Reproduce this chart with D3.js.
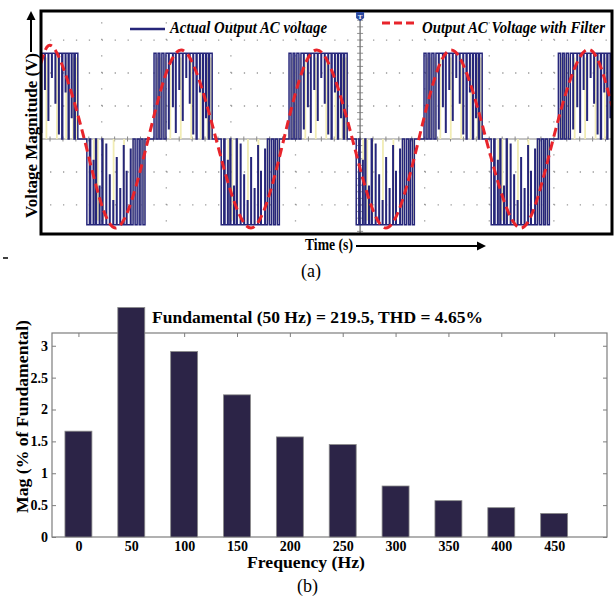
<!DOCTYPE html>
<html>
<head>
<meta charset="utf-8">
<script src="https://cdn.jsdelivr.net/npm/d3@7"></script>
<style>
  body { margin: 0; background: #fff; }
  svg { display: block; }
  text { font-family: "Liberation Serif", "Times New Roman", serif; }
</style>
</head>
<body>
<svg id="fig" width="615" height="596"></svg>
<script>
// ---- (a) oscilloscope data, time in ms, voltage in V ----
const timeGrid = [10, 20, 30, 40, 60, 70, 80];   // dotted divisions (50 = trigger axis)
const voltGrid = [-200, -100, 100, 200, 300];
const stepVoltage = 260;
const halfCycleCenters = [1.8, 12.2, 22.6, 33.0, 43.5, 53.9, 64.4, 74.8, 85.2];
const halfCycleSigns = [1, -1, 1, -1, 1, -1, 1, -1, 1];
const pulseSpan = 9.0;
// switching pattern of one half cycle (fraction of the pulse span)
const pwmOn = [[0.00, 0.035], [0.07, 0.10], [0.135, 0.17], [0.205, 0.725], [0.74, 0.835], [0.85, 0.935], [0.955, 1.00]];
const pwmNotches = [[0.25, 0.12], [0.32, 0.38], [0.37, 0.08], [0.43, 0.58], [0.49, 0.22], [0.55, 0.72], [0.61, 0.42], [0.67, 0.06], [0.785, 0.55], [0.89, 0.25]];
const ghostLines = [0.05, 0.12, 0.19, 0.28, 0.46, 0.64, 0.8, 0.92, 0.98];
const filterTimes = [0.6, 2.8, 7.3, 12.1, 17.2, 22.3, 27.7, 33.1, 38.2, 43.3, 48.8, 54.0, 59.1, 64.1, 69.5, 74.9, 79.9, 85.0, 89.0];
const filterVolts = [230, 270, 0, -270, 0, 270, 0, -270, 0, 270, 0, -270, 0, 270, 0, -270, 0, 270, 100];

// ---- (b) harmonic spectrum ----
const freqs = [0, 50, 100, 150, 200, 250, 300, 350, 400, 450];
const mags = [1.66, 100, 2.91, 2.23, 1.57, 1.45, 0.80, 0.57, 0.46, 0.37];
const magTicks = [0, 0.5, 1, 1.5, 2, 2.5, 3];
const barClip = 3.6;

const svg = d3.select("#fig");

// squeeze a text horizontally so it spans the given width
function fitText(sel, width, anchorX, baseY, rotate) {
  const w = sel.node().getComputedTextLength();
  const k = width / w;
  sel.attr("x", null).attr("y", null)
    .attr("transform", `translate(${anchorX},${baseY})${rotate ? " rotate(-90)" : ""} scale(${k},1)`);
}

// --- Panel (a) ---
const x = d3.scaleLinear().domain([0.6, 89.0]).range([41, 612]);
const y = d3.scaleLinear().domain([-288, 388]).range([234, 11]);

svg.append("clipPath").attr("id", "plotA")
  .append("rect").attr("x", 41).attr("y", 11).attr("width", 571).attr("height", 223);

const gA = svg.append("g").attr("clip-path", "url(#plotA)");

// dotted grid
gA.selectAll("line.hgrid").data(voltGrid).join("line")
  .attr("class", "hgrid")
  .attr("x1", x(0)).attr("x2", 612)
  .attr("y1", d => y(d)).attr("y2", d => y(d))
  .attr("stroke", "#999").attr("stroke-width", 1.3)
  .attr("stroke-dasharray", `1.3 ${x(2) - x(0) - 1.3}`);

gA.selectAll("line.vgrid").data(timeGrid).join("line")
  .attr("class", "vgrid")
  .attr("x1", d => x(d)).attr("x2", d => x(d))
  .attr("y1", y(-300)).attr("y2", 11)
  .attr("stroke", "#999").attr("stroke-width", 1.3)
  .attr("stroke-dasharray", `1.3 ${y(-300) - y(-250) - 1.3}`);

// zero line and trigger axis with small ticks
gA.append("line").attr("x1", 41).attr("x2", 612).attr("y1", y(0)).attr("y2", y(0))
  .attr("stroke", "#888").attr("stroke-width", 1.2);
gA.selectAll("line.zt").data(d3.range(0, 90, 2)).join("line")
  .attr("class", "zt")
  .attr("x1", d => x(d)).attr("x2", d => x(d))
  .attr("y1", y(0) - 2.5).attr("y2", y(0) + 2.5)
  .attr("stroke", "#888");
gA.append("line").attr("x1", x(50)).attr("x2", x(50)).attr("y1", 11).attr("y2", 234)
  .attr("stroke", "#666").attr("stroke-width", 1.2);
gA.selectAll("line.ct").data(d3.range(-280, 381, 20)).join("line")
  .attr("class", "ct")
  .attr("x1", x(50) - 3).attr("x2", x(50) + 3)
  .attr("y1", d => y(d)).attr("y2", d => y(d))
  .attr("stroke", "#777").attr("stroke-width", 0.8);

// pale ghost traces
const ghosts = [];
halfCycleCenters.forEach((c, i) => {
  ghostLines.forEach(u => ghosts.push({ t: c + (u - 0.5) * pulseSpan, s: halfCycleSigns[i] }));
});
gA.selectAll("line.ghost").data(ghosts).join("line")
  .attr("class", "ghost")
  .attr("x1", d => x(d.t)).attr("x2", d => x(d.t))
  .attr("y1", y(0)).attr("y2", d => y(d.s * stepVoltage * 0.95))
  .attr("stroke", "#f1ecb4").attr("stroke-width", 1.8);

// PWM output trace
const pwm = [[-5, 0]];
halfCycleCenters.forEach((c, i) => {
  const s = halfCycleSigns[i];
  const V = s * stepVoltage;
  const on = s > 0 ? pwmOn : pwmOn.map(([a, b]) => [1 - b, 1 - a]).reverse();
  const notches = s > 0 ? pwmNotches : pwmNotches.map(([u, l]) => [1 - u, l]).reverse();
  const t = u => c + (u - 0.5) * pulseSpan;
  on.forEach(([a, b]) => {
    pwm.push([t(a), 0], [t(a), V]);
    notches.filter(([u]) => u > a && u < b).forEach(([u, l]) => {
      pwm.push([t(u), V], [t(u), l * V], [t(u) + 0.08, l * V], [t(u) + 0.08, V]);
    });
    pwm.push([t(b), V], [t(b), 0]);
  });
});
pwm.push([95, 0]);

gA.append("path").datum(pwm)
  .attr("d", d3.line().x(d => x(d[0])).y(d => y(d[1])))
  .attr("fill", "none").attr("stroke", "#26267a").attr("stroke-width", 1.5);

// filtered output
gA.append("path").datum(filterTimes.map((t, i) => [t, filterVolts[i]]))
  .attr("d", d3.line().x(d => x(d[0])).y(d => y(d[1])).curve(d3.curveNatural))
  .attr("fill", "none").attr("stroke", "#e8242b").attr("stroke-width", 3)
  .attr("stroke-dasharray", "9 5");

// frame
svg.append("rect").attr("x", 41).attr("y", 11).attr("width", 571).attr("height", 223)
  .attr("fill", "none").attr("stroke", "#000").attr("stroke-width", 3);

// trigger marker
svg.append("path").attr("d", `M${x(50) - 4},12 h8 v6 l-4,3 l-4,-3 z`).attr("fill", "#2b48a0");
svg.append("text").attr("x", x(50)).attr("y", 18.5).attr("text-anchor", "middle")
  .attr("font-size", 7).attr("font-weight", "bold").attr("fill", "#fff").text("T");

// legend
svg.append("line").attr("x1", 130).attr("x2", 165).attr("y1", 29).attr("y2", 29)
  .attr("stroke", "#26267a").attr("stroke-width", 2.5);
svg.append("text")
  .attr("font-size", 17).attr("font-weight", "bold").attr("font-style", "italic")
  .text("Actual Output AC voltage")
  .call(fitText, 157, 170, 33);
svg.append("line").attr("x1", 382).attr("x2", 415).attr("y1", 23).attr("y2", 23)
  .attr("stroke", "#e8242b").attr("stroke-width", 3).attr("stroke-dasharray", "8 4");
svg.append("text")
  .attr("font-size", 17).attr("font-weight", "bold").attr("font-style", "italic")
  .text("Output AC Voltage  with Filter")
  .call(fitText, 183, 422, 32.5);

// axis titles with arrows
svg.append("text").attr("text-anchor", "middle").attr("font-size", 16).attr("font-weight", "bold")
  .text("Voltage Magnitude (V)")
  .call(fitText, 165, 36.5, 135.5, true);
svg.append("line").attr("x1", 31).attr("x2", 31).attr("y1", 52).attr("y2", 18)
  .attr("stroke", "#000").attr("stroke-width", 2);
svg.append("path").attr("d", "M31,11 L26.5,20 L35.5,20 Z").attr("fill", "#000");

svg.append("text").attr("font-size", 16).attr("font-weight", "bold")
  .text("Time (s)")
  .call(fitText, 48, 305, 249.5);
svg.append("line").attr("x1", 356).attr("x2", 479).attr("y1", 246).attr("y2", 246)
  .attr("stroke", "#000").attr("stroke-width", 2);
svg.append("path").attr("d", "M486,246 L477,241.5 L477,250.5 Z").attr("fill", "#000");

svg.append("line").attr("x1", 3).attr("x2", 8).attr("y1", 258).attr("y2", 258)
  .attr("stroke", "#000").attr("stroke-width", 1.5);
svg.append("text").attr("x", 311).attr("y", 277).attr("text-anchor", "middle")
  .attr("font-size", 18).text("(a)");

// --- Panel (b) ---
const xB = d3.scaleLinear().domain([-25, 500]).range([52, 607]);
const yB = d3.scaleLinear().domain([0, 3.2]).range([537, 333]);
const halfBar = 12.75;

const axisColor = "#7d7d7d";
const gB = svg.append("g");

gB.append("g").attr("transform", "translate(52,0)")
  .call(d3.axisLeft(yB).tickValues(magTicks).tickFormat(d3.format("~g"))
    .tickSizeInner(-4).tickSizeOuter(0).tickPadding(4))
  .call(g => g.select(".domain").remove())
  .call(g => g.selectAll(".tick line").attr("stroke", axisColor))
  .call(g => g.selectAll(".tick text").attr("font-size", 14).attr("font-weight", "bold")
    .attr("font-family", "Liberation Serif, serif").attr("fill", "#000"));

gB.append("g").attr("transform", "translate(607,0)")
  .call(d3.axisRight(yB).tickValues(magTicks).tickSizeInner(-4).tickSizeOuter(0).tickFormat(""))
  .call(g => g.select(".domain").remove())
  .call(g => g.selectAll(".tick line").attr("stroke", axisColor));

gB.append("g").attr("transform", "translate(0,333)")
  .call(d3.axisTop(xB).tickValues(freqs).tickSizeInner(-4).tickSizeOuter(0).tickFormat(""))
  .call(g => g.select(".domain").remove())
  .call(g => g.selectAll(".tick line").attr("stroke", axisColor));

gB.append("g").attr("transform", "translate(0,537)")
  .call(d3.axisBottom(xB).tickValues(freqs).tickSizeInner(-4).tickSizeOuter(0).tickPadding(4))
  .call(g => g.select(".domain").remove())
  .call(g => g.selectAll(".tick line").attr("stroke", axisColor))
  .call(g => g.selectAll(".tick text").attr("font-size", 14).attr("font-weight", "bold")
    .attr("font-family", "Liberation Serif, serif").attr("fill", "#000"));

gB.append("rect").attr("x", 52).attr("y", 333).attr("width", 555).attr("height", 204)
  .attr("fill", "none").attr("stroke", axisColor).attr("stroke-width", 1.2);

gB.selectAll("rect.bar").data(freqs.map((f, i) => ({ f, m: mags[i] }))).join("rect")
  .attr("class", "bar")
  .attr("x", d => xB(d.f - halfBar))
  .attr("width", d => xB(d.f + halfBar) - xB(d.f - halfBar))
  .attr("y", d => yB(Math.min(d.m, barClip)))
  .attr("height", d => yB(0) - yB(Math.min(d.m, barClip)))
  .attr("fill", "#2c2447").attr("stroke", "#8a8a8a").attr("stroke-width", 0.8);

svg.append("text").attr("text-anchor", "middle")
  .attr("font-size", 16).attr("font-weight", "bold")
  .text("Fundamental (50 Hz) = 219.5, THD = 4.65%")
  .call(fitText, 331, 317.5, 323);

svg.append("text").attr("text-anchor", "middle").attr("font-size", 16).attr("font-weight", "bold")
  .text("Mag (% of Fundamental)")
  .call(fitText, 193, 28, 416.5, true);

svg.append("text").attr("text-anchor", "middle")
  .attr("font-size", 16).attr("font-weight", "bold")
  .text("Frequency (Hz)")
  .call(fitText, 118, 306, 568);

svg.append("text").attr("x", 307.5).attr("y", 592).attr("text-anchor", "middle")
  .attr("font-size", 18).text("(b)");
</script>
</body>
</html>
